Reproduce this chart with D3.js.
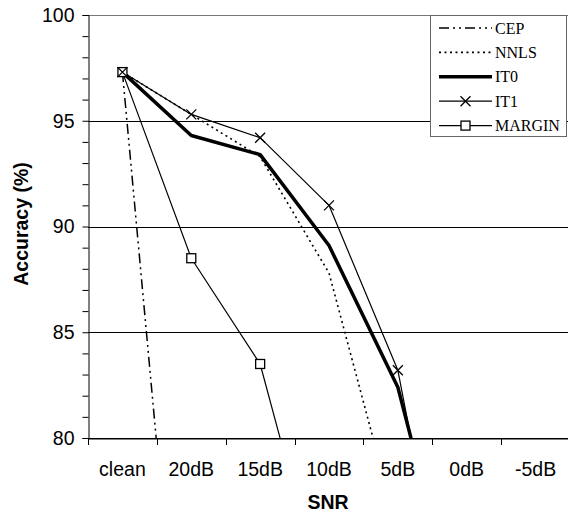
<!DOCTYPE html>
<html><head><meta charset="utf-8">
<script src="https://cdn.jsdelivr.net/npm/d3@7"></script>
<style>body{margin:0;background:#fff}</style>
</head><body>
<svg id="c" width="568" height="514"></svg>
<script>
const categories = ["clean","20dB","15dB","10dB","5dB","0dB","-5dB"];
const CEP    = [97.3, 62.0];
const NNLS   = [97.3, 95.3, 93.3, 87.8, 75.6];
const IT0    = [97.3, 94.3, 93.4, 89.1, 82.4, 69.8];
const IT1    = [97.3, 95.3, 94.2, 91.0, 83.2, 66.4];
const MARGIN = [97.3, 88.5, 83.5, 71.4];
const yTicks = [80, 85, 90, 95, 100];
const yMinor = d3.range(80, 101, 1);

const series = [
  {name:"CEP", values:CEP, width:1.5, dash:"10,4,2,4,2,4", marker:null},
  {name:"NNLS", values:NNLS, width:1.6, dash:"2,3.5", marker:null},
  {name:"IT0", values:IT0, width:3.5, dash:null, marker:null},
  {name:"IT1", values:IT1, width:1.2, dash:null, marker:"x"},
  {name:"MARGIN", values:MARGIN, width:1.2, dash:null, marker:"sq"}
];

const FONT = "Liberation Sans, Arial, sans-serif";
const FS = 19.5;
const svg = d3.select("#c");
const L = 88, R = 570, T = 15, B = 438;
const x = d3.scaleBand().domain(categories).range([L, R]);
const y = d3.scaleLinear().domain([80, 100]).range([B, T]);
const cx = c => x(c) + x.bandwidth()/2;

// gridlines
svg.append("g").selectAll("line").data(yTicks).join("line")
  .attr("x1", L).attr("x2", 568).attr("y1", d=>Math.round(y(d))+0.5).attr("y2", d=>Math.round(y(d))+0.5)
  .attr("stroke", d => (d===100) ? "#777" : "#000").attr("stroke-width", 1);

// y axis
const ya = svg.append("g").attr("transform", `translate(${L+0.5},0)`)
  .call(d3.axisLeft(y).tickValues(yMinor).tickSize(6).tickFormat(d => yTicks.includes(d) ? d : ""));
ya.select(".domain").attr("stroke","#000");
ya.selectAll(".tick line").attr("stroke","#000");
ya.selectAll(".tick text").attr("font-family",FONT).attr("font-size",FS).attr("fill","#000").attr("x",-14);

// x axis
const xa = svg.append("g").attr("transform", `translate(0,${B+0.5})`)
  .call(d3.axisBottom(x).tickSize(0));
xa.select(".domain").attr("stroke","#000");
xa.selectAll(".tick text").attr("font-family",FONT).attr("font-size",FS).attr("fill","#000")
  .attr("y", 37.5).attr("dy", 0);
// x tick marks at band boundaries
svg.append("g").selectAll("line").data(categories.concat(["__end"])).join("line")
  .attr("x1", (d,i)=>Math.round(L + i*x.step())+0.5).attr("x2", (d,i)=>Math.round(L + i*x.step())+0.5)
  .attr("y1", B).attr("y2", B+7).attr("stroke","#000");

// titles
svg.append("text").attr("x", 328).attr("y", 509).attr("text-anchor","middle")
  .attr("font-family",FONT).attr("font-size",FS).attr("font-weight","bold").text("SNR");
svg.append("text").attr("transform","translate(28,224) rotate(-90)").attr("text-anchor","middle")
  .attr("font-family",FONT).attr("font-size",FS).attr("font-weight","bold").text("Accuracy (%)");

// clip
svg.append("clipPath").attr("id","pc").append("rect").attr("x",L).attr("y",T).attr("width",R-L).attr("height",B-T);
const plot = svg.append("g").attr("clip-path","url(#pc)");

const line = d3.line().x((d,i)=>cx(categories[i])).y(d=>y(d));
series.forEach(s=>{
  plot.append("path").datum(s.values).attr("d", line).attr("fill","none")
    .attr("stroke","#000").attr("stroke-width", s.width).attr("stroke-dasharray", s.dash)
    .attr("stroke-linejoin","round");
});
function drawMarker(g, type, px, py){
  if(type==="x"){
    const r=5;
    g.append("path").attr("d",`M${px-r},${py-r}L${px+r},${py+r}M${px-r},${py+r}L${px+r},${py-r}`)
      .attr("stroke","#000").attr("stroke-width",1.3).attr("fill","none");
  } else if(type==="sq"){
    const r=4.5;
    g.append("rect").attr("x",px-r).attr("y",py-r).attr("width",2*r).attr("height",2*r)
      .attr("fill","#fff").attr("stroke","#000").attr("stroke-width",1.3);
  }
}
["sq","x"].forEach(t=>{
  series.filter(s=>s.marker===t).forEach(s=>{
    s.values.forEach((v,i)=>{ if(v>=80 && v<=100) drawMarker(plot, t, cx(categories[i]), y(v)); });
  });
});

// legend
const lg = svg.append("g");
lg.append("rect").attr("x",430.5).attr("y",15.5).attr("width",136).attr("height",121)
  .attr("fill","#fff").attr("stroke","#666").attr("stroke-width",1);
series.forEach((s,i)=>{
  const ly = 28 + i*24.4;
  lg.append("line").attr("x1",439).attr("x2",492).attr("y1",ly).attr("y2",ly)
    .attr("stroke","#000").attr("stroke-width",s.width).attr("stroke-dasharray",s.dash);
  if(s.marker) drawMarker(lg, s.marker, 465.5, ly);
  lg.append("text").attr("x",495).attr("y",ly+5.5).attr("font-family","Liberation Serif, Times New Roman, serif")
    .attr("font-size",16).attr("fill","#000").text(s.name);
});
</script>
</body></html>
